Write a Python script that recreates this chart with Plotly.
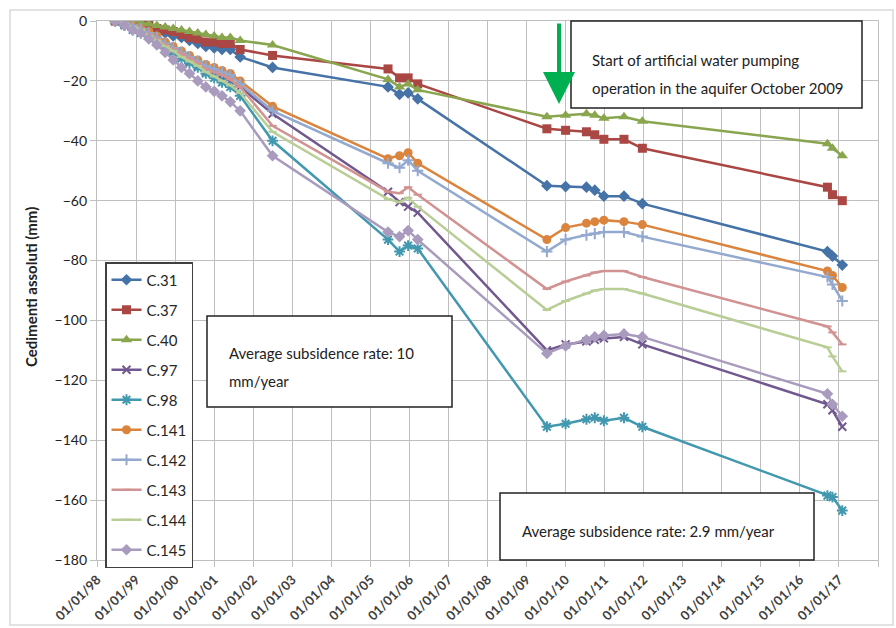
import plotly.graph_objects as go

# Survey dates shared by all benchmarks
dates = [
    "1998-06-20", "1998-09-15", "1998-12-01", "1999-02-15", "1999-05-01",
    "1999-07-15", "1999-10-01", "1999-12-15", "2000-03-01", "2000-05-15",
    "2000-08-01", "2000-10-15", "2001-01-01", "2001-03-15", "2001-06-01",
    "2001-09-01", "2002-07-01",
    "2005-06-15", "2005-10-01", "2005-12-20", "2006-03-20",
    "2009-07-10", "2010-01-01", "2010-07-15", "2010-10-01", "2010-12-25",
    "2011-07-01", "2011-12-20",
    "2016-09-15", "2016-11-01", "2017-02-01",
]

# Absolute settlements (mm) per benchmark
c31 = [0, -0.5, -1, -1.5, -2.5, -3, -4, -5, -5.5, -6.5, -7.5, -8.5, -9, -9.5, -9.5, -12, -15.5,
       -22, -24.5, -24, -26,
       -55, -55.3, -55.5, -56.5, -58.5, -58.5, -61,
       -77, -78.5, -81.5]
c37 = [0, 0, -0.5, -1, -1.5, -2.5, -3, -3.5, -4.5, -5.5, -6, -7, -7, -7.5, -7.5, -9.5, -11.5,
       -16, -19, -19, -21,
       -36, -36.5, -37, -38, -39.5, -39.5, -42.5,
       -55.5, -58, -60]
c40 = [0, 0, 0, -0.5, -1, -1.5, -2, -2.5, -3, -3.5, -4, -4.5, -5, -5.5, -5.5, -6.5, -8,
       -19.5, -22, -21, -23,
       -32, -31.5, -31, -31.5, -32.5, -32, -33.5,
       -41, -42.5, -45]
c97 = [0, -1, -2, -3, -4.5, -6, -8, -10, -12, -13.5, -15, -17, -18, -19, -20, -22, -31,
       -57, -60.5, -62, -64,
       -110, -108, -107, -106.5, -106, -105.5, -108,
       -128, -130, -135.5]
c98 = [0, -1.5, -3, -4, -5, -6.5, -8.5, -10.5, -12.5, -14, -15.5, -17.5, -19, -20.5, -22, -25, -40,
       -73, -77, -75, -76,
       -135.5, -134.5, -133, -132.5, -133.5, -132.5, -135.5,
       -158.5, -159, -163.5]
c141 = [0, -0.5, -1.5, -2.5, -3.5, -5, -7, -8.5, -10, -11.5, -13, -14.5, -15.5, -16.5, -17.5, -20, -28.5,
        -46, -45, -44, -47.5,
        -73, -69, -67.5, -67, -66.5, -67, -68,
        -83.5, -85, -89]
c142 = [0, -0.5, -1.5, -2.5, -4, -5.5, -7.5, -9, -10.5, -12, -13.5, -15, -16, -17, -18, -21, -30,
        -47.5, -49, -46.5, -50,
        -77, -73, -71.5, -71, -70.5, -70.5, -72,
        -85.5, -88, -93.5]
c143 = [0, -1, -2, -3, -4.5, -6, -8, -9.5, -11, -12.5, -14, -16, -17, -18, -19.5, -22, -35,
        -57, -57.5, -55.5, -58,
        -89.5, -87, -85, -84, -83.5, -83.5, -85.5,
        -102, -104, -108]
c144 = [0, -1, -2, -3, -5, -6.5, -8.5, -10, -12, -13.5, -15, -17, -18.5, -20, -21.5, -24, -37,
        -59.5, -60.5, -59, -62,
        -96.5, -93.5, -91, -90, -89.5, -89.5, -91,
        -109, -112, -117]
c145 = [0, -1.5, -3, -4, -6, -8, -10.5, -13, -15.5, -17.5, -20, -22, -23.5, -25, -27, -30, -45,
        -70.5, -72, -70, -73,
        -111, -108.5, -106.5, -105.5, -105, -104.5, -105.5,
        -124.5, -128, -132]

series_names = ["C.31", "C.37", "C.40", "C.97", "C.98", "C.141", "C.142", "C.143", "C.144", "C.145"]
series_values = [c31, c37, c40, c97, c98, c141, c142, c143, c144, c145]
colors = ["#4572A7", "#AA4643", "#89A54E", "#71588F", "#4198AF",
          "#DB843D", "#93A9CF", "#D19392", "#B9CD96", "#A99BBD"]
symbols = ["diamond", "square", "triangle-up", "x-thin", "asterisk",
           "circle", "cross-thin", "line-ew", "line-ew", "diamond"]
sizes = [9, 9, 10, 8, 9, 9, 8, 6, 6, 9]

# Axis ticks
year_ticks = [f"{y}-01-01" for y in range(1998, 2019)]
year_labels = [f"01/01/{y % 100:02d}" for y in range(1998, 2018)] + [""]
y_ticks = list(range(-180, 1, 20))

FONT = "Lato"
TXT = "#404040"
GRID = "#bfbfbf"

fig = go.Figure()
for i, (name, vals) in enumerate(zip(series_names, series_values)):
    fig.add_trace(go.Scatter(
        x=dates, y=vals, name=name, mode="lines+markers",
        legendgroup=name,
        line=dict(color=colors[i], width=2.5),
        marker=dict(symbol=symbols[i], size=sizes[i], color=colors[i],
                    line=dict(color=colors[i], width=2 if symbols[i] in ("x-thin", "asterisk", "cross-thin", "line-ew") else 0)),
    ))

# plot-area geometry in pixels, used to place boxes and texts
L, R, T, B = 97, 878, 21, 560
W, H = R - L, B - T


def px(x):
    return (x - L) / W


def py(y):
    return (B - y) / H


shapes = [
    # outer chart frame
    dict(type="rect", xref="paper", yref="paper", x0=px(10), x1=px(893), y0=py(10), y1=py(625),
         line=dict(color="#d9d9d9", width=1.5), fillcolor="rgba(0,0,0,0)", layer="below"),
    # text boxes
    dict(type="rect", xref="paper", yref="paper", x0=px(571), x1=px(862), y0=py(21), y1=py(108),
         line=dict(color="#222222", width=1.5), fillcolor="white", layer="above"),
    dict(type="rect", xref="paper", yref="paper", x0=px(207), x1=px(452), y0=py(316), y1=py(407),
         line=dict(color="#222222", width=1.5), fillcolor="white", layer="above"),
    dict(type="rect", xref="paper", yref="paper", x0=px(500), x1=px(814), y0=py(493), y1=py(560),
         line=dict(color="#222222", width=1.5), fillcolor="white", layer="above"),
]

box_font = dict(family=FONT, size=15, color="#222222")
annotations = [
    dict(text="Start of artificial water pumping", x=px(590), y=py(60)),
    dict(text="operation in the aquifer October 2009", x=px(590), y=py(88)),
    dict(text="Average subsidence rate: 10", x=px(227), y=py(353)),
    dict(text="mm/year", x=px(227), y=py(381)),
    dict(text="Average subsidence rate: 2.9 mm/year", x=px(520), y=py(531)),
]
for a in annotations:
    a.update(xref="paper", yref="paper", xanchor="left", yanchor="middle",
             showarrow=False, font=box_font)

# y-axis title
annotations.append(dict(text="<b>Cedimenti assoluti (mm)</b>", xref="paper", yref="paper",
                        x=px(31), y=py(287), textangle=-90, showarrow=False,
                        xanchor="center", yanchor="middle",
                        font=dict(family=FONT, size=15, color="#222222")))

# pumping start arrow
annotations.append(dict(text="", xref="paper", yref="paper", x=px(559), y=py(104),
                        ax=0, ay=-82, axref="pixel", ayref="pixel",
                        showarrow=True, arrowhead=2, arrowsize=1.6, arrowwidth=4,
                        arrowcolor="#00B050"))

fig.update_layout(
    width=896, height=628,
    margin=dict(l=L, r=896 - R, t=T, b=628 - B),
    paper_bgcolor="white", plot_bgcolor="white",
    font=dict(family=FONT, color=TXT),
    showlegend=True,
    legend=dict(x=px(105), y=py(262), xanchor="left", yanchor="top",
                bgcolor="white", bordercolor="#404040", borderwidth=1.5,
                font=dict(family=FONT, size=15, color="#262626"),
                tracegroupgap=7.5, itemwidth=30),
    shapes=shapes,
    annotations=annotations,
    xaxis=dict(type="date", range=["1998-01-01", "2018-01-01"], automargin=False,
               tickmode="array", tickvals=year_ticks, ticktext=year_labels,
               tickangle=-45, tickfont=dict(family=FONT, size=13, color="#404040", weight="bold"),
               showgrid=True, gridcolor=GRID, gridwidth=1.2,
               showline=True, linecolor=GRID, linewidth=1.2, mirror=True,
               ticks="outside", ticklen=6, tickcolor=GRID, zeroline=False),
    yaxis=dict(range=[-180, 0], tickmode="array", tickvals=y_ticks, automargin=False,
               tickfont=dict(family=FONT, size=14, color="#222222"),
               showgrid=True, gridcolor=GRID, gridwidth=1.2,
               showline=True, linecolor=GRID, linewidth=1.2, mirror=True,
               ticks="outside", ticklen=6, tickcolor=GRID, zeroline=False),
)

fig.write_html("out.html")
